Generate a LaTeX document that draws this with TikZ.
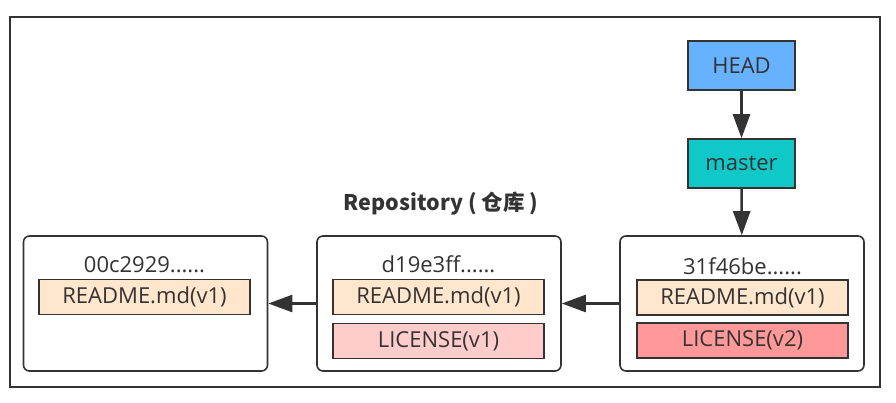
\documentclass[tikz,border=0pt]{standalone}
\usepackage{fontspec}
\setmainfont{Open Sans}
\newfontfamily\cjk{Noto Sans CJK SC}
\usepackage{tikz}
\usetikzlibrary{shapes}
\usetikzlibrary{positioning}
\usetikzlibrary{arrows.meta}
\usepackage{xcolor}
\definecolor{ink}{HTML}{333333}
\definecolor{headblue}{HTML}{66B2FF}
\definecolor{mastercyan}{HTML}{10C8C8}
\definecolor{readmefill}{HTML}{FFE6CC}
\definecolor{licfill}{HTML}{FFCCCC}
\definecolor{licnew}{HTML}{FF9999}

\begin{document}
\begin{tikzpicture}[x=1pt,y=-1pt,
  commit/.style={draw=ink,line width=1.6pt,rounded corners=6pt,minimum width=244pt,minimum height=135pt,inner sep=0pt},
  filebox/.style={draw=ink,line width=1.6pt,minimum width=211pt,minimum height=35pt,inner sep=0pt,text=ink,font=\fontsize{22}{24}\selectfont},
  refbox/.style={draw=ink,line width=1.6pt,minimum width=107pt,minimum height=49pt,inner sep=0pt,text=ink,font=\fontsize{22}{24}\selectfont},
  hash/.style={text=ink,font=\fontsize{22}{24}\selectfont},
  link/.style={draw=ink,line width=2.5pt,-{Triangle[length=24pt,width=17pt]}}]
\useasboundingbox (0,0) rectangle (896,402);
\draw[ink,line width=1.6pt] (10,17) rectangle (880,387); % outer frame
\node[text=ink,font=\cjk\bfseries\fontsize{21.5}{24}\selectfont] (repo) at (441,204) {Repository ( 仓库 )};
% commits
\node[commit] (c1) at (145.5,303.5) {};
\node[commit] (c2) at (439,303.5) {};
\node[commit] (c3) at (742,303.5) {};
\node[hash] (h1) at (144.5,265) {00c2929......};
\node[hash] (h2) at (438.5,264) {d19e3ff......};
\node[hash] (h3) at (742.5,266) {31f46be......};
\node[filebox,fill=readmefill] (r1) at (144.5,297) {README.md(v1)};
\node[filebox,fill=readmefill] (r2) at (438.5,297) {README.md(v1)};
\node[filebox,fill=readmefill] (r3) at (742.5,297.5) {README.md(v1)};
\node[filebox,fill=licfill] (l2) at (438.5,341) {LICENSE(v1)};
\node[filebox,fill=licnew] (l3) at (742.5,340.5) {LICENSE(v2)};
% refs
\node[refbox,fill=headblue] (head) at (741.5,65.5) {HEAD};
\node[refbox,fill=mastercyan] (master) at (741.5,163.5) {master};
\draw[link] (head) -- (master);
\draw[link] (master) -- (c3);
\draw[link] (c3.west) -- (c2.east);
\draw[link] (c2.west) -- (c1.east);
\end{tikzpicture}
\end{document}
